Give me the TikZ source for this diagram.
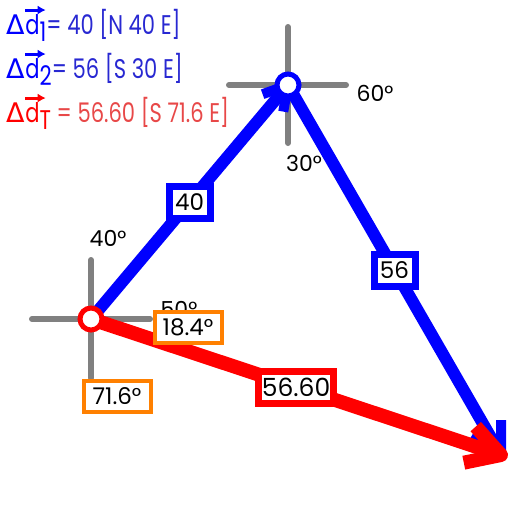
\documentclass[tikz,border=0pt]{standalone}
\usepackage{fontspec}
\setmainfont{Poppins}
\newfontfamily\gk{DejaVu Sans}
\usetikzlibrary{calc,arrows.meta}
\definecolor{bl}{RGB}{0,0,255}
\definecolor{tbl}{RGB}{40,40,210}
\definecolor{rd}{RGB}{255,0,0}
\definecolor{trd}{RGB}{232,72,72}
\definecolor{org}{RGB}{255,128,0}
\definecolor{gry}{RGB}{128,128,128}
\newcommand{\nrw}[1]{\scalebox{0.78}[1]{#1}}
\tikzset{
  txt/.style={anchor=base west, inner sep=0pt, outer sep=0pt, font=\fontsize{27}{32}\selectfont},
  cross/.style={gry, line width=6pt, line cap=round},
  bvec/.style={bl, line width=12pt},
  rvec/.style={rd, line width=14pt},
  ring/.style={circle, line width=5pt, fill=white, minimum size=22pt, inner sep=0pt},
  bbox/.style={draw=bl, line width=7pt, fill=white, minimum width=41pt, minimum height=32pt, inner sep=0pt, font=\fontsize{23}{26}\selectfont},
  rbox/.style={draw=rd, line width=7pt, fill=white, minimum width=75pt, minimum height=32pt, inner sep=0pt, font=\fontsize{25}{28}\selectfont},
  obox/.style={draw=org, line width=4pt, fill=white, minimum width=67pt, minimum height=31pt, inner sep=0pt, font=\fontsize{23}{26}\selectfont},
  ang/.style={inner sep=0pt, font=\fontsize{22}{26}\selectfont},
}
\begin{document}
\begin{tikzpicture}[x=1pt,y=-1pt]
\useasboundingbox[fill=white] (0,0) rectangle (512,512);
\coordinate (A) at (91,319);
\coordinate (B) at (288,85);
\coordinate (C) at (501,455);
% crosshairs
\draw[cross] ($(A)+(-59,0)$) -- ($(A)+(59,0)$);
\draw[cross] ($(A)+(0,-59)$) -- ($(A)+(0,59)$);
\draw[cross] ($(B)+(-59,0)$) -- ($(B)+(58,0)$);
\draw[cross] ($(B)+(0,-58)$) -- ($(B)+(0,58)$);
% blue vectors
\draw[bvec] (A) -- (B);
\draw[bl, line width=10pt, line join=round] ($(B)!27pt!30:(A)$) -- (B) -- ($(B)!27pt!-30:(A)$);
\draw[bvec] (B) -- (C);
\draw[bl, line width=10pt, line join=round] ($(C)!35pt!30:(B)$) -- (C) -- ($(C)!35pt!-30:(B)$);
% red vector
\draw[rvec] (A) -- (C);
\draw[rd, line width=14pt, line join=round] ($(C)!38pt!30:(A)$) -- (C) -- ($(C)!38pt!-30:(A)$);
% rings
\node[ring, draw=rd] (pA) at (A) {};
\node[ring, draw=bl] (pB) at (B) {};
% angle labels
\node[ang] (a40) at (108,238) {40°};
\node[ang] (a50) at (179,309) {50°};
\node[ang] (a60) at (375,93) {60°};
\node[ang] (a30) at (304,163) {30°};
% magnitude boxes
\node[bbox] (m1) at ($(A)!0.5!(B)$) {40};
\node[bbox] (m2) at ($(B)!0.5!(C)$) {56};
\node[rbox] (mT) at ($(A)!0.5!(C)$) {56.60};
\node[obox] (o1) at (188,327) {18.4°};
\node[obox] (o2) at (117,396) {71.6°};
% legend line 1
\node[txt, text=bl] (D1) at (6,34) {\gk Δ};
\node[txt, text=bl] (d1) at ([xshift=1pt]D1.base east) {\nrw{d}};
\node[txt, text=bl] (s1) at ([yshift=-7pt]d1.base east) {\nrw{1}};
\node[txt, text=tbl] (r1) at ([yshift=7pt]s1.base east) {\nrw{= 40 [N 40 E]}};
\draw[bl, line width=3pt, -{Latex[length=8pt,width=9pt]}] ([yshift=4pt]d1.north west) -- ([xshift=6pt,yshift=4pt]d1.north east);
% legend line 2
\node[txt, text=bl] (D2) at (6,78) {\gk Δ};
\node[txt, text=bl] (d2) at ([xshift=1pt]D2.base east) {\nrw{d}};
\node[txt, text=bl] (s2) at ([yshift=-7pt]d2.base east) {\nrw{2}};
\node[txt, text=tbl] (r2) at ([yshift=7pt]s2.base east) {\nrw{= 56 [S 30 E]}};
\draw[bl, line width=3pt, -{Latex[length=8pt,width=9pt]}] ([yshift=4pt]d2.north west) -- ([xshift=6pt,yshift=4pt]d2.north east);
% legend line 3
\node[txt, text=rd] (D3) at (6,122) {\gk Δ};
\node[txt, text=rd] (d3) at ([xshift=1pt]D3.base east) {\nrw{d}};
\node[txt, text=rd] (s3) at ([yshift=-7pt]d3.base east) {\nrw{T}};
\node[txt, text=trd] (r3) at ([yshift=7pt]s3.base east) {\nrw{\ = 56.60 [S 71.6 E]}};
\draw[rd, line width=3pt, -{Latex[length=8pt,width=9pt]}] ([yshift=4pt]d3.north west) -- ([xshift=6pt,yshift=4pt]d3.north east);
\end{tikzpicture}
\end{document}
